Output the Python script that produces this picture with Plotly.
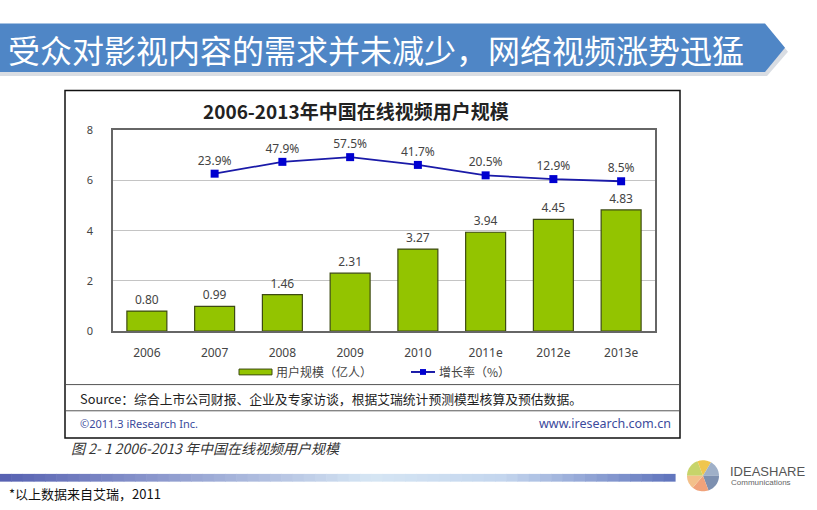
import plotly.graph_objects as go
import math

W, H = 817, 510

# ---------------- data ----------------
categories = ["2006", "2007", "2008", "2009", "2010", "2011e", "2012e", "2013e"]
users = [0.80, 0.99, 1.46, 2.31, 3.27, 3.94, 4.45, 4.83]          # 用户规模（亿人）
growth_years = ["2007", "2008", "2009", "2010", "2011e", "2012e", "2013e"]
growth = [23.9, 47.9, 57.5, 41.7, 20.5, 12.9, 8.5]                 # 增长率（%）
y_ticks = [0, 2, 4, 6, 8]
bar_name = "用户规模（亿人）"
line_name = "增长率（%）"

def px(x):
    return x / W

def py(y):
    return 1 - y / H

FONT = "Noto Sans, Noto Sans CJK SC, sans-serif"
CJK = "Noto Sans CJK SC, sans-serif"
BAR_COLOR = "#93C400"
BAR_EDGE = "#3d4a12"
LINE_COLOR = "#1a1aa8"
MARKER_COLOR = "#0000d0"

fig = go.Figure()

fig.add_trace(go.Bar(
    x=categories, y=users, name=bar_name, showlegend=False,
    marker=dict(color=BAR_COLOR, line=dict(color=BAR_EDGE, width=1.2)),
    text=[f"{v:.2f}" for v in users], textposition="outside",
    textfont=dict(size=12, color="#444", family=FONT),
    cliponaxis=False, width=0.59,
))
fig.add_trace(go.Scatter(
    x=growth_years, y=growth, name=line_name, yaxis="y2", showlegend=False,
    mode="lines+markers+text",
    line=dict(color=LINE_COLOR, width=1.8),
    marker=dict(symbol="square", size=8, color=MARKER_COLOR),
    text=[f"{v}%" for v in growth], textposition="top center",
    textfont=dict(size=12, color="#444", family=FONT),
    cliponaxis=False,
))

shapes = []
annotations = []

def text(x, y, s, size, color, family=CJK, anchor="left"):
    annotations.append(dict(x=px(x), y=py(y), xref="paper", yref="paper", xanchor=anchor, yanchor="middle",
                            text=s, showarrow=False, font=dict(size=size, color=color, family=family)))

# banner
shapes.append(dict(type="path", xref="paper", yref="paper",
                   path=f"M {px(0)},{py(19)} L {px(767)},{py(19)} L {px(788)},{py(45)} L {px(767)},{py(70)} L {px(0)},{py(70)} Z",
                   fillcolor="#d9dde3", line=dict(width=0), layer="below"))
shapes.append(dict(type="path", xref="paper", yref="paper",
                   path=f"M {px(0)},{py(16)} L {px(765)},{py(16)} L {px(785)},{py(41)} L {px(765)},{py(66)} L {px(0)},{py(66)} Z",
                   fillcolor="#4F86C6", line=dict(width=0), layer="below"))
text(6, 42, "受众对影视内容的需求并未减少，网络视频涨势迅猛", 32, "white")

# chart frame and separator lines
shapes.append(dict(type="rect", xref="paper", yref="paper", x0=px(65), x1=px(680), y0=py(85), y1=py(443),
                   line=dict(color="#111", width=1.5), fillcolor="white", layer="below"))
for yy in (388, 415):
    shapes.append(dict(type="line", xref="paper", yref="paper", x0=px(66), x1=px(679), y0=py(yy), y1=py(yy),
                       line=dict(color="#555", width=1)))

text(356, 106, "<b>2006-2013年中国在线视频用户规模</b>", 19, "#222", anchor="center")

# legend (drawn manually to get the wide bar swatch)
shapes.append(dict(type="rect", xref="paper", yref="paper", x0=px(239), x1=px(272), y0=py(372), y1=py(378),
                   fillcolor=BAR_COLOR, line=dict(color=BAR_EDGE, width=1)))
text(274, 375, bar_name, 12, "#444")
shapes.append(dict(type="line", xref="paper", yref="paper", x0=px(411), x1=px(435), y0=py(375), y1=py(375),
                   line=dict(color=LINE_COLOR, width=2)))
shapes.append(dict(type="rect", xref="paper", yref="paper", x0=px(420), x1=px(426), y0=py(372), y1=py(378),
                   fillcolor=MARKER_COLOR, line=dict(width=0)))
text(437, 375, line_name, 12, "#444")

text(78, 402, "Source：综合上市公司财报、企业及专家访谈，根据艾瑞统计预测模型核算及预估数据。", 12.8, "#222")
text(78, 428, "©2011.3 iResearch Inc.", 11, "#3b4a9c", FONT)
text(673, 428, "www.iresearch.com.cn", 12.5, "#3b4a9c", FONT, anchor="right")
text(69, 453, "<i>图 2- 1 2006-2013 年中国在线视频用户规模</i>", 14, "#333")

# gradient bar at bottom (segments)
stops = [(0.0, (88, 98, 178)), (0.55, (214, 230, 244)), (0.75, (196, 214, 238)), (1.0, (98, 118, 190))]
def col(t):
    for i in range(len(stops) - 1):
        a, ca = stops[i]
        b, cb = stops[i + 1]
        if a <= t <= b:
            f = (t - a) / (b - a)
            return "rgb(%d,%d,%d)" % tuple(int(ca[k] + (cb[k] - ca[k]) * f) for k in range(3))
    return "rgb(98,118,190)"
N = 60
x_start, x_end = 0, 675
for i in range(N):
    xa = x_start + (x_end - x_start) * i / N
    xb = x_start + (x_end - x_start) * (i + 1) / N + 0.6
    shapes.append(dict(type="rect", xref="paper", yref="paper", x0=px(xa), x1=px(xb), y0=py(480), y1=py(488),
                       fillcolor=col(i / (N - 1)), line=dict(width=0), layer="below"))

text(7, 500, "*以上数据来自艾瑞，2011", 13, "#111")

# logo
cx, cy, r = 703, 482, 16
wedges = [(180, 250, "#c7d46a"), (250, 300, "#f0c64e"), (300, 360, "#9fb0c8"), (0, 70, "#7d90b0"),
          (70, 130, "#f0a27a"), (130, 180, "#f3c08a")]
for a0, a1, c in wedges:
    pts = [f"M {px(cx)},{py(cy)}"]
    steps = 12
    for s in range(steps + 1):
        a = math.radians(a0 + (a1 - a0) * s / steps)
        pts.append(f"L {px(cx + r * math.cos(a))},{py(cy + r * math.sin(a))}")
    pts.append("Z")
    shapes.append(dict(type="path", xref="paper", yref="paper", path=" ".join(pts),
                       fillcolor=c, line=dict(width=0)))
text(728, 478, "IDEASHARE", 13, "#555", "Liberation Sans Narrow, Liberation Sans, sans-serif")
text(729, 489, "Communications", 8, "#666", "Liberation Sans Narrow, Liberation Sans, sans-serif")

fig.update_layout(
    width=W, height=H, margin=dict(l=0, r=0, t=0, b=0),
    paper_bgcolor="white", plot_bgcolor="white",
    shapes=shapes, annotations=annotations,
    showlegend=False,
    xaxis=dict(domain=[px(113), px(655)], type="category", categoryorder="array", categoryarray=categories,
               showline=True, mirror=True, linecolor="#666", linewidth=1.5, ticks="",
               ticklabelstandoff=10, tickfont=dict(size=12, color="#444", family=FONT),
               showgrid=False, zeroline=False),
    yaxis=dict(domain=[py(333), py(126)], range=[0, 8], tickvals=y_ticks,
               showline=True, mirror=True, linecolor="#666", linewidth=1.5, ticks="",
               ticklabelstandoff=16, tickfont=dict(size=11, color="#444", family=FONT),
               showgrid=True, gridcolor="#c4c4c4", gridwidth=1, zeroline=False),
    yaxis2=dict(overlaying="y", range=[-296, 112], visible=False, showgrid=False),
    bargap=0.41,
)

fig.write_html("out.html", config={"displayModeBar": False},
               post_script="document.body.style.margin='0';")
